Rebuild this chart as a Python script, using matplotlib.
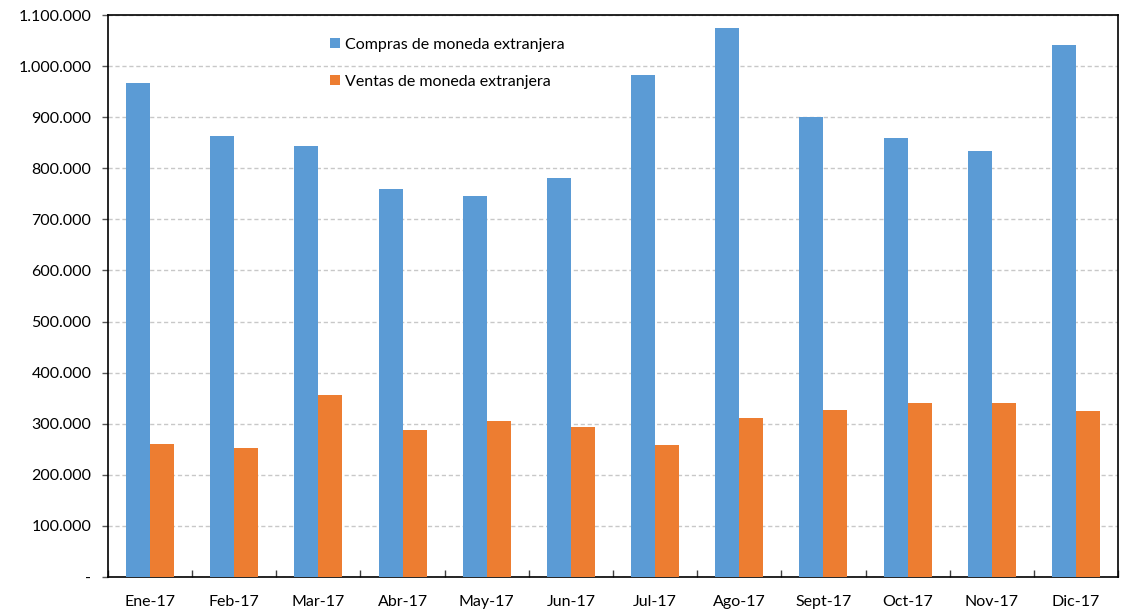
import matplotlib
matplotlib.use("Agg")
import matplotlib.pyplot as plt
import numpy as np
from matplotlib.ticker import FuncFormatter, MultipleLocator

months = ["Ene-17", "Feb-17", "Mar-17", "Abr-17", "May-17", "Jun-17",
          "Jul-17", "Ago-17", "Sept-17", "Oct-17", "Nov-17", "Dic-17"]
compras = [966000, 863000, 844000, 760000, 746000, 780000,
           982000, 1075000, 900000, 859000, 834000, 1041000]
ventas = [260000, 252000, 357000, 287000, 305000, 294000,
          258000, 312000, 326000, 340000, 340000, 324000]
series_labels = ["Compras de moneda extranjera", "Ventas de moneda extranjera"]

plt.rcParams["font.family"] = ["Lato", "DejaVu Sans"]

fig = plt.figure(figsize=(11.21, 6.11), dpi=100)
ax = fig.add_axes([108 / 1121, 1 - 577 / 611, 1010 / 1121, 562 / 611])

x = np.arange(len(months))
w = 0.285
ax.bar(x - w / 2, compras, w, color="#5B9BD5", label=series_labels[0], zorder=3)
ax.bar(x + w / 2, ventas, w, color="#ED7D31", label=series_labels[1], zorder=3)

ax.set_xlim(-0.5, len(months) - 0.5)
ax.set_ylim(0, 1100000)
ax.yaxis.set_major_locator(MultipleLocator(100000))

def fmt(v, pos):
    if v == 0:
        return "-"
    return f"{int(round(v)):,}".replace(",", ".")

ax.yaxis.set_major_formatter(FuncFormatter(fmt))
ax.grid(axis="y", linestyle=(0, (3, 2)), color="#c8c8c8", linewidth=1, zorder=0)

ax.set_xticks(x)
ax.set_xticklabels(months)
ax.set_xticks(np.arange(-0.5, len(months), 1), minor=True)
ax.tick_params(axis="x", which="major", length=0, pad=13, labelsize=11.5)
ax.tick_params(axis="x", which="minor", direction="in", length=5, width=1, color="#404040")
ax.tick_params(axis="y", direction="out", length=4, width=1, color="#595959", labelsize=11.5, pad=8)

for s in ax.spines.values():
    s.set_color("black")
    s.set_linewidth(1.2)

ax.legend(loc="upper left", bbox_to_anchor=(0.206, 0.985), frameon=False,
          fontsize=11.5, handlelength=0.6, handleheight=0.6, handletextpad=0.3,
          labelspacing=1.45)

fig.savefig("out.png", dpi=100)
